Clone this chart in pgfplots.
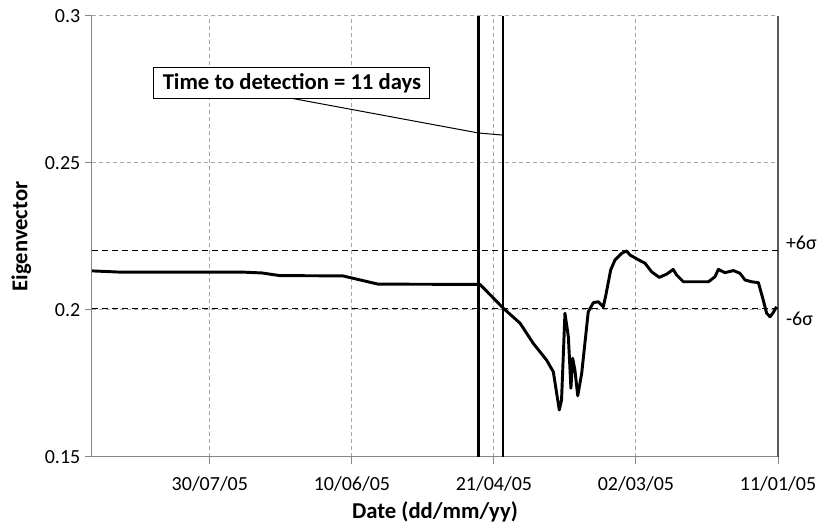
\documentclass[border=0pt]{standalone}
\usepackage{pgfplots}
\pgfplotsset{compat=1.18}
\usepackage{fontspec}
\setmainfont{Carlito}
\definecolor{axgray}{HTML}{868686}
\definecolor{grgray}{HTML}{A6A6A6}
\begin{document}
\begin{tikzpicture}
\begin{axis}[
  scale only axis, width=514.5pt, height=330.75pt,
  xmin=-241.5, xmax=0, ymin=0.15, ymax=0.3,
  clip=false,
  axis line style={draw=none},
  xtick={-200,-150,-100,-50,0},
  xticklabels={30/07/05,10/06/05,21/04/05,02/03/05,11/01/05},
  ytick={0.15,0.2,0.25,0.3},
  yticklabels={0.15,0.2,0.25,0.3},
  xtick pos=bottom, ytick pos=left,
  tick align=outside, major tick length=5.25pt,
  tick style={axgray, line width=0.75pt},
  grid=major,
  major grid style={grgray, line width=0.75pt, dash pattern=on 3pt off 2.25pt},
  tick label style={font=\fontsize{15}{17}\selectfont},
  xticklabel style={anchor=base, yshift=-19.5pt},
  yticklabel style={anchor=east},
  xlabel={Date (dd/mm/yy)},
  ylabel={Eigenvector},
  label style={font=\bfseries\fontsize{17}{20}\selectfont},
  xlabel style={at={(axis description cs:0.5,0)}, anchor=base, yshift=-45.75pt},
  ylabel style={at={(axis description cs:0,0.5)}, anchor=base, yshift=48.4pt},
]
% axis lines
\draw[axgray, line width=0.75pt] (axis cs:-241.5,0.3) -- (axis cs:-241.5,0.15) -- (axis cs:0,0.15);
\draw[black!65, line width=0.9pt] (axis cs:0,0.15) -- (axis cs:0,0.3);
% thresholds
\addplot[black, line width=1.1pt, dash pattern=on 4.5pt off 3pt] coordinates {(-241.5,0.2203) (0,0.2203)};
\addplot[black, line width=1.1pt, dash pattern=on 4.5pt off 3pt] coordinates {(-241.5,0.2006) (0,0.2006)};
% detection lines
\addplot[black, line width=1.8pt] coordinates {(-105.4,0.15) (-105.4,0.3)};
\addplot[black, line width=1.8pt] coordinates {(-96.9,0.15) (-96.9,0.3)};
% data
\addplot[black, line width=2.2pt, line join=round] table {
-241.5 0.2133
-232 0.2129
-188.7 0.2129
-181.7 0.2126
-175.4 0.2117
-153.2 0.2116
-140.8 0.2088
-104.9 0.2087
-96.7 0.2006
-90.8 0.1955
-86.2 0.1887
-81.5 0.1830
-79.1 0.1790
-77.0 0.1660
-76.2 0.1694
-75.0 0.1989
-73.8 0.1909
-72.9 0.1734
-72.3 0.1836
-71.5 0.1796
-70.5 0.1708
-69.1 0.1785
-66.8 0.1994
-65.0 0.2025
-63.3 0.2028
-61.5 0.2011
-60.6 0.2051
-58.9 0.2136
-57.4 0.2170
-55.0 0.2193
-53.3 0.2201
-52.1 0.2187
-48.6 0.2168
-46.8 0.2159
-44.5 0.2130
-41.8 0.2111
-39.2 0.2122
-36.9 0.2138
-35.7 0.2119
-33.3 0.2096
-29.8 0.2096
-24.5 0.2096
-22.2 0.2113
-21.0 0.2138
-18.7 0.2127
-15.7 0.2134
-13.4 0.2125
-11.6 0.2102
-9.3 0.2096
-6.9 0.2093
-5.2 0.2034
-4.0 0.1989
-2.8 0.1977
-1.7 0.1991
-0.5 0.2011
};
% leader line and annotation
\addplot[black, line width=0.75pt] coordinates {(-171.2,0.2720) (-105.4,0.2602) (-96.9,0.2595)};
\node[draw=black, fill=white, line width=0.75pt, minimum width=207pt, minimum height=23pt, inner sep=0pt,
  font=\bfseries\fontsize{17}{20}\selectfont] at (axis cs:-171.1,0.2772) {Time to detection = 11 days};
% sigma labels
\node[anchor=west, inner sep=0pt, font=\fontsize{15}{17}\selectfont] at (axis cs:0,0.2229) [xshift=5.8pt] {+6σ};
\node[anchor=west, inner sep=0pt, font=\fontsize{15}{17}\selectfont] at (axis cs:0,0.1969) [xshift=5.8pt] {-6σ};
\coordinate (BL) at (axis cs:-241.5,0.15);
\end{axis}
\path (BL) ++(-69pt,-56.25pt) rectangle ++(616.5pt,399pt);
\end{tikzpicture}
\end{document}
